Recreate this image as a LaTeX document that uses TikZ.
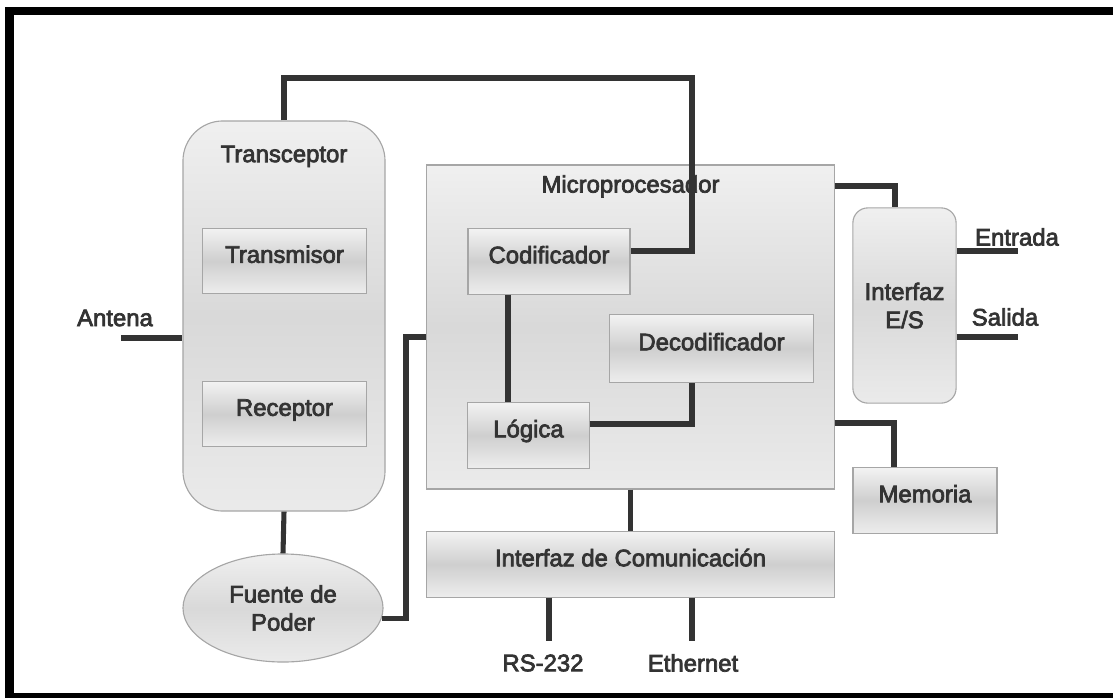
\documentclass[tikz,border=0pt]{standalone}
\usepackage{fontspec}
\setmainfont{Liberation Sans}
\newfontfamily\diagfont[FakeBold=3]{Liberation Sans}
\usetikzlibrary{positioning,shapes.geometric}
\tikzset{
  blk/.style={draw=gray!70,line width=0.8pt,top color=gray!10,bottom color=gray!14,
    middle color=gray!38,text=black!80,inner sep=0pt,text height=0.44cm,text depth=0.35cm},
  big/.style={draw=gray!70,line width=0.8pt,top color=gray!12,bottom color=gray!16,
    middle color=gray!30,text=black!80,inner sep=0pt},
  wire/.style={line width=3.6pt,draw=black!80},
  every label/.style={text=black!80},
}
\begin{document}
\begin{tikzpicture}[x=0.025cm,y=-0.025cm,font=\diagfont\fontsize{17}{20}\selectfont]
\clip (0,0) rectangle (1113,698);
\useasboundingbox (0,0) rectangle (1113,698);
\draw[line width=0.2cm] (9.5,11) rectangle (1130,697);
\path
  (284,316) node [big,rounded corners=1cm,minimum width=5.05cm,minimum height=9.75cm,
    label={[anchor=center,yshift=-0.9cm]north:Transceptor}] (trans) {}
  (284.5,261) node [blk,minimum width=4.08cm,minimum height=1.63cm] (tx) {Transmisor}
  (284.5,414) node [blk,minimum width=4.08cm,minimum height=1.63cm] (rx) {Receptor}
  (283,608) node [big,ellipse,minimum width=5cm,minimum height=2.7cm,align=center]
    (fuente) {Fuente de\\Poder}
  (630.5,327) node [big,minimum width=10.18cm,minimum height=8.1cm,
    label={[anchor=center,yshift=-0.55cm]north:Microprocesador}] (micro) {}
  (549,261.5) node [blk,minimum width=4.05cm,minimum height=1.63cm] (codif) {Codificador}
  (711.5,348.5) node [blk,minimum width=5.08cm,minimum height=1.68cm] (decod) {Decodificador}
  (528.5,435.5) node [blk,minimum width=3.03cm,minimum height=1.63cm] (logica) {Lógica}
  (630.5,564.5) node [blk,minimum width=10.18cm,minimum height=1.63cm] (comm)
    {Interfaz de Comunicación}
  (904.5,305.5) node [big,rounded corners=0.375cm,minimum width=2.58cm,
    minimum height=4.88cm,align=center] (es) {Interfaz\\E/S}
  (925,500.5) node [blk,minimum width=3.6cm,minimum height=1.63cm] (mem) {Memoria};
\path[text=black!80]
  (115,318) node (antena) {Antena}
  (1017,237) node (entrada) {Entrada}
  (1005,317) node (salida) {Salida}
  (543,663) node (rs) {RS-232}
  (693,663) node (eth) {Ethernet};
\coordinate (antEnd) at (121,338);
\coordinate (topR) at (692,78);
\coordinate (entEnd) at (1018,251);
\coordinate (salEnd) at (1018,337);
\coordinate (rsEnd) at (549,641);
\coordinate (ethEnd) at (692,641);
\draw[wire] (antEnd) -- (antEnd -| trans.west);
\draw[wire] (trans.north) |- (topR) |- (codif.east |- 0,251);
\draw[wire] (trans.south) -- (fuente.north);
\draw[wire] (fuente.-6) -| (406,337) -- (micro.west |- 0,337);
\draw[wire] (codif.south -| 508,0) -- (logica.north -| 508,0);
\draw[wire] (logica.east |- 0,424) -| (decod.south -| 692,0);
\draw[wire] (micro.east |- 0,186) -| (es.north -| 895,0);
\draw[wire] (micro.east |- 0,423) -| (mem.north -| 894,0);
\draw[wire] (es.east |- entEnd) -- (entEnd);
\draw[wire] (es.east |- salEnd) -- (salEnd);
\draw[wire] (micro.south) -- (comm.north);
\draw[wire] (comm.south -| rsEnd) -- (rsEnd);
\draw[wire] (comm.south -| ethEnd) -- (ethEnd);
\end{tikzpicture}
\end{document}
